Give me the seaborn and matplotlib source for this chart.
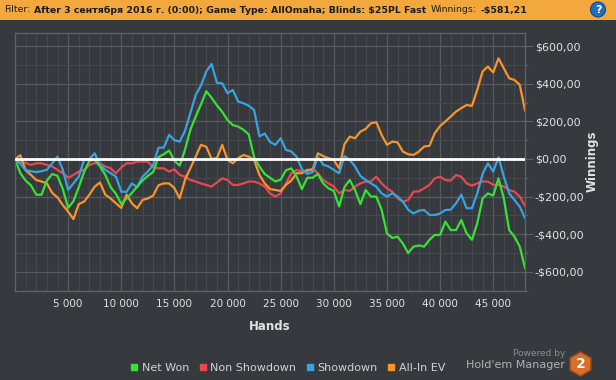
"""
Hold'em Manager style winnings graph, redrawn with seaborn.
"""
import pandas as pd
import matplotlib
matplotlib.use('Agg')
import matplotlib.pyplot as plt
from matplotlib.ticker import MultipleLocator, FuncFormatter
from matplotlib.patches import Rectangle, Circle, RegularPolygon
from matplotlib.lines import Line2D
import seaborn as sns

# sample points (hands), one every 500 hands
hands = [0, 500, 1000, 1500, 2000, 2500, 3000, 3500, 4000, 4500,
         5000, 5500, 6000, 6500, 7000, 7500, 8000, 8500, 9000, 9500,
         10000, 10500, 11000, 11500, 12000, 12500, 13000, 13500, 14000, 14500,
         15000, 15500, 16000, 16500, 17000, 17500, 18000, 18500, 19000, 19500,
         20000, 20500, 21000, 21500, 22000, 22500, 23000, 23500, 24000, 24500,
         25000, 25500, 26000, 26500, 27000, 27500, 28000, 28500, 29000, 29500,
         30000, 30500, 31000, 31500, 32000, 32500, 33000, 33500, 34000, 34500,
         35000, 35500, 36000, 36500, 37000, 37500, 38000, 38500, 39000, 39500,
         40000, 40500, 41000, 41500, 42000, 42500, 43000, 43500, 44000, 44500,
         45000, 45500, 46000, 46500, 47000, 47500, 48000]

net_won = [0, -75, -115, -140, -190, -190, -115, -80, -90, -160,
           -260, -225, -150, -70, -10, -5, -40, -85, -150, -185,
           -240, -210, -180, -147, -115, -90, -70, 10, 25, 45,
           -10, -35, 50, 155, 225, 290, 360, 325, 285, 250,
           207, 180, 172, 155, 130, 10, -40, -80, -100, -120,
           -110, -60, -50, -94, -160, -100, -100, -80, -130, -156,
           -170, -253, -150, -112, -165, -240, -165, -200, -200, -270,
           -395, -420, -413, -450, -500, -466, -460, -466, -430, -404,
           -404, -333, -378, -378, -325, -395, -430, -342, -210, -183,
           -195, -103, -210, -378, -413, -466, -581.21]

non_showdown = [0, -15, -20, -32, -23, -23, -32, -40, -58, -76,
                -100, -85, -67, -58, -32, -23, -23, -40, -50, -76,
                -45, -23, -23, -14, -14, -14, -45, -50, -50, -67,
                -55, -85, -94, -112, -120, -130, -138, -147, -125, -103,
                -112, -138, -138, -130, -120, -120, -130, -147, -183, -200,
                -183, -130, -76, -58, -67, -67, -50, -76, -112, -130,
                -147, -183, -165, -170, -147, -130, -120, -120, -94, -130,
                -156, -174, -209, -227, -218, -174, -172, -156, -138, -103,
                -94, -112, -115, -85, -95, -130, -142, -130, -120, -120,
                -138, -138, -147, -165, -174, -200, -250]

showdown = [0, -25, -60, -65, -70, -65, -58, -23, 12, -58,
            -165, -130, -94, -5, 0, 30, -32, -58, -76, -94,
            -174, -175, -130, -150, -94, -67, -32, 60, 60, 128,
            100, 92, 150, 243, 340, 390, 465, 505, 405, 402,
            349, 367, 305, 296, 283, 260, 120, 135, 90, 75,
            110, 48, 40, 12, -55, -80, -70, 10, -30, -40,
            -58, -76, 15, -5, -40, -90, -112, -130, -147, -183,
            -200, -183, -200, -227, -270, -290, -275, -271, -298, -298,
            -290, -271, -270, -236, -190, -262, -262, -183, -80, -23,
            -67, 9, -94, -183, -218, -254, -315]

all_in_ev = [0, 20, -60, -85, -112, -120, -130, -180, -205, -245,
             -280, -320, -240, -227, -190, -147, -125, -190, -210, -236,
             -260, -190, -236, -262, -218, -210, -195, -140, -130, -130,
             -155, -210, -110, -50, 12, 75, 65, 0, 5, 75,
             -5, -23, 4, 21, 12, -5, -85, -130, -160, -165,
             -170, -138, -115, -76, -76, -58, -58, 30, 15, 4,
             -5, -50, 78, 119, 110, 145, 160, 190, 195, 128,
             75, 92, 88, 39, 25, 21, 39, 66, 70, 137,
             175, 199, 225, 252, 270, 287, 282, 367, 465, 491,
             460, 535, 482, 429, 420, 394, 256]

series_names = ['Net Won', 'Non Showdown', 'Showdown', 'All-In EV']
series_colors = ['#36e236', '#e8494e', '#3ba2e2', '#f7952c']
x_ticks = [5000, 10000, 15000, 20000, 25000, 30000, 35000, 40000, 45000]
y_ticks = [-600, -400, -200, 0, 200, 400, 600]

header_parts = [('Filter:', 'normal'),
                ('After 3 сентября 2016 г. (0:00); Game Type: AllOmaha; Blinds: $25PL Fast', 'bold'),
                ('Winnings:', 'normal'),
                ('-$581,21', 'bold')]

W, H = 616, 380
BG = '#36393d'
TEXT = '#e2e2e2'


def money(v, pos=None):
    sign = '-' if v < 0 else ''
    return sign + '$' + f'{abs(v):.2f}'.replace('.', ',')


def thousands(v, pos=None):
    return f'{int(v):,}'.replace(',', ' ')


sns.set_style('dark')
plt.rcParams['font.family'] = ['DejaVu Sans']
plt.rcParams['text.parse_math'] = False

fig = plt.figure(figsize=(W / 100, H / 100), dpi=100, facecolor=BG)

# full-figure layer in pixel units for the header, icons and logo
frame = fig.add_axes([0, 0, 1, 1])
frame.set_xlim(0, W)
frame.set_ylim(H, 0)
frame.axis('off')
frame.add_patch(Rectangle((0, 0), W, 19.5, facecolor='#f3a83e', lw=0))

renderer = fig.canvas.get_renderer()


def part_widths(fs):
    widths = []
    for txt, wt in header_parts:
        t = frame.text(0, 0, txt, size=fs, weight=wt)
        widths.append(t.get_window_extent(renderer).width)
        t.remove()
    return widths


gap = 4
fs = 7
total = sum(part_widths(fs)) + gap * (len(header_parts) - 1)
fs = fs * (527 - gap * 3) / (total - gap * 3)
x = 4
for (txt, wt), w in zip(header_parts, part_widths(fs)):
    frame.text(x, 10, txt, size=fs, weight=wt, color='#1b1b1b', va='center', ha='left')
    x += w + gap

frame.add_patch(Circle((598, 9.5), 7.5, facecolor='#1f6fc0', edgecolor='#0e4b8e', lw=0.8))
frame.text(598, 10, '?', ha='center', va='center', color='white', weight='bold', size=8)

# main plot
ax = fig.add_axes([15 / W, 1 - 291 / H, (525.3 - 15) / W, (291 - 33.3) / H])
ax.set_facecolor(BG)

df = pd.DataFrame({
    'hands': hands * 4,
    'value': net_won + non_showdown + showdown + all_in_ev,
    'series': [n for n in series_names for _ in hands],
})
palette = dict(zip(series_names, series_colors))
draw_order = ['Non Showdown', 'All-In EV', 'Showdown', 'Net Won']
sns.lineplot(data=df, x='hands', y='value', hue='series', hue_order=draw_order,
             palette=palette, linewidth=1.6, estimator=None, sort=False,
             legend=False, ax=ax, zorder=2)
ax.axhline(0, color='white', lw=2, zorder=3)

ax.set_xlim(0, 48020)
ax.set_ylim(-702, 668)
ax.set_xticks(x_ticks)
ax.xaxis.set_minor_locator(MultipleLocator(1000))
ax.set_yticks(y_ticks)
ax.yaxis.set_minor_locator(MultipleLocator(100))
ax.xaxis.set_major_formatter(FuncFormatter(thousands))
ax.yaxis.set_major_formatter(FuncFormatter(money))
ax.grid(which='major', color='#575b5f', lw=0.9)
ax.grid(which='minor', color='#45494d', lw=0.8)
ax.set_axisbelow(True)
ax.set_xlabel('')
ax.set_ylabel('')

ax.yaxis.tick_right()
ax.tick_params(axis='x', which='both', colors='#5e6266', labelcolor=TEXT,
               labelsize=7.5, length=3, width=0.8, pad=3)
ax.tick_params(axis='y', which='major', colors='#5e6266', labelcolor=TEXT,
               labelsize=8, length=5.4, width=0.8, pad=1.5)
ax.tick_params(axis='y', which='minor', colors='#5e6266', length=2.5, width=0.8)
for s in ax.spines.values():
    s.set_color('#5e6266')
    s.set_linewidth(1)

fig.text(270 / W, 1 - 326 / H, 'Hands', ha='center', va='center',
         weight='bold', size=8.5, color=TEXT)
fig.text(592 / W, 1 - 161.5 / H, 'Winnings', ha='center', va='center',
         rotation=90, weight='bold', size=8.5, color=TEXT)

handles = [Line2D([], [], marker='s', linestyle='none', color=c, markersize=4.5)
           for c in series_colors]
fig.legend(handles, series_names, loc='center', bbox_to_anchor=(288 / W, 1 - 368 / H),
           ncol=4, frameon=False, fontsize=8, labelcolor='#d2d2d2',
           handlelength=0.6, handletextpad=0.4, columnspacing=0.9)

# "Powered by" logo
frame.text(565, 354, 'Powered by', ha='right', va='center', size=6.5, color='#8e8e8e')
frame.text(565, 365, "Hold'em Manager", ha='right', va='center', size=8, color='#b2b2b2')
frame.add_patch(RegularPolygon((580.5, 364), 6, radius=12, facecolor='#d76e2b',
                               edgecolor='#a04c1a', lw=1))
frame.text(580.5, 364.5, '2', ha='center', va='center', color='white', weight='bold', size=10)

fig.savefig('out.png', dpi=100, facecolor=BG)
